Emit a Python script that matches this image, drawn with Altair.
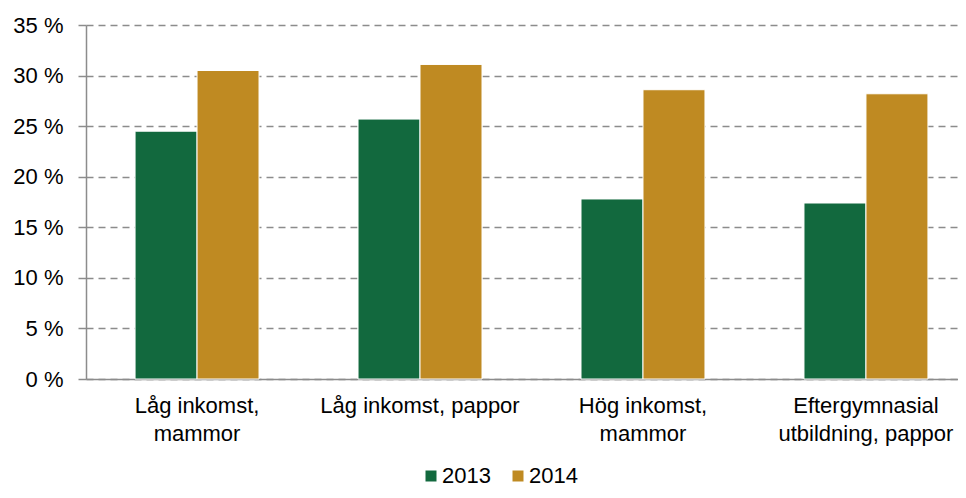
import altair as alt
import pandas as pd

categories = ["Låg inkomst,\nmammor", "Låg inkomst, pappor", "Hög inkomst,\nmammor", "Eftergymnasial\nutbildning, pappor"]
years = ["2013", "2014"]
values_2013 = [24.5, 25.7, 17.8, 17.4]
values_2014 = [30.5, 31.1, 28.6, 28.2]
y_ticks = [0, 5, 10, 15, 20, 25, 30, 35]

rows = []
for c, v in zip(categories, values_2013):
    rows.append({"kategori": c, "år": "2013", "andel": v})
for c, v in zip(categories, values_2014):
    rows.append({"kategori": c, "år": "2014", "andel": v})
df = pd.DataFrame(rows)

FONT = "Liberation Sans"
GREEN = "#12693E"
GOLD = "#BF8A22"
FS = 22

chart = alt.Chart(df).mark_bar(stroke="white", strokeWidth=1).encode(
    x=alt.X("kategori:N", sort=categories, title=None,
            scale=alt.Scale(paddingInner=0.444, paddingOuter=0.22, range=[0, 891]),
            axis=alt.Axis(labelAngle=0, labelExpr="split(datum.label, '\\n')",
                          labelFontSize=FS, labelFont=FONT, labelColor="#000000",
                          labelLineHeight=28, labelPadding=16, labelLimit=0,
                          ticks=False, tickSize=0, domainColor="#8C8C8C", domainWidth=1.5,
                          grid=False)),
    xOffset=alt.XOffset("år:N", sort=years, scale=alt.Scale(paddingInner=0.0, paddingOuter=0)),
    y=alt.Y("andel:Q", title=None,
            scale=alt.Scale(domain=[0, 35], nice=False),
            axis=alt.Axis(values=y_ticks, labelExpr="datum.value + ' %'",
                          labelFontSize=FS, labelFont=FONT, labelColor="#000000",
                          labelPadding=15, tickSize=8, tickColor="#8C8C8C", tickWidth=1.5,
                          domainColor="#8C8C8C", domainWidth=1.5,
                          grid=True, gridColor="#8C8C8C", gridDash=[7, 5], gridWidth=1.5)),
    color=alt.Color("år:N", sort=years,
                    scale=alt.Scale(domain=years, range=[GREEN, GOLD]),
                    legend=alt.Legend(title=None, orient="none", direction="horizontal",
                                      legendX=334, legendY=440,
                                      symbolType="square", symbolSize=121, symbolStrokeWidth=0,
                                      labelFontSize=FS, labelFont=FONT, labelColor="#000000",
                                      labelOffset=0, columnPadding=16)),
).properties(
    width=872,
    height=354,
    autosize=alt.AutoSizeParams(type="none"),
    padding={"left": 78, "top": 17, "right": 0, "bottom": 111},
).configure_view(stroke=None)

chart.save("out.html", embed_options={"renderer": "svg", "actions": False})
